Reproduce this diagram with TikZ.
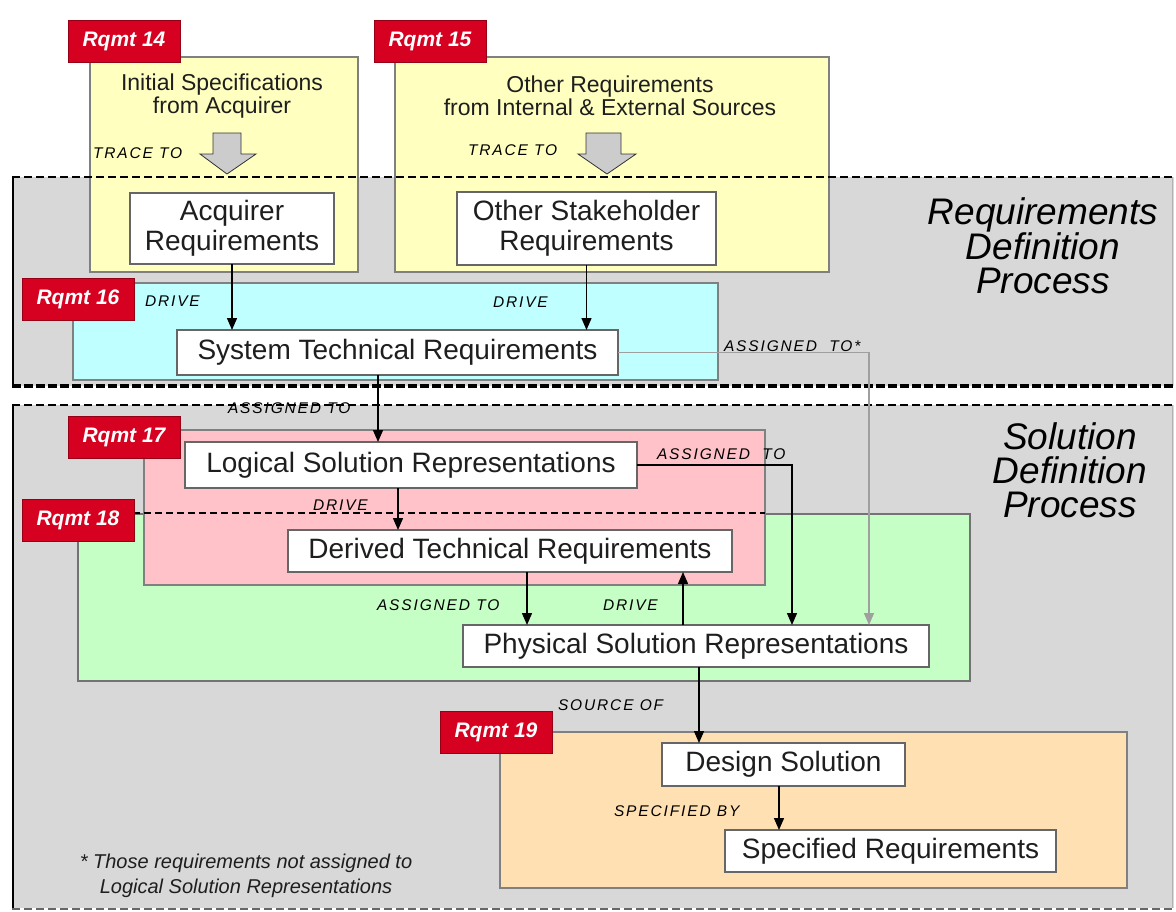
\documentclass[tikz,border=0pt]{standalone}
\usepackage{fontspec}
\setmainfont{Liberation Sans}
\newfontfamily\lblfam[LetterSpace=12]{Liberation Sans}
\usetikzlibrary{arrows.meta}
\definecolor{regiongray}{RGB}{216,216,216}
\definecolor{ylw}{RGB}{255,255,192}
\definecolor{cyn}{RGB}{192,255,255}
\definecolor{pnk}{RGB}{255,194,200}
\definecolor{grn}{RGB}{198,255,198}
\definecolor{org}{RGB}{255,224,178}
\definecolor{rqred}{RGB}{214,0,32}
\definecolor{txt}{RGB}{30,30,30}
\newcommand\boxfont{\fontsize{28}{30}\selectfont}
\newcommand\hdrfont{\fontsize{23}{23}\selectfont}
\newcommand\lblfont{\lblfam\itshape\fontsize{15.5}{17}\selectfont}
\newcommand\rqfont{\bfseries\itshape\fontsize{21}{21}\selectfont}
\newcommand\titlefont{\itshape\fontsize{37}{34}\selectfont}
\newcommand\notefont{\itshape\fontsize{20}{25}\selectfont}
\begin{document}
\begin{tikzpicture}[x=1pt,y=-1pt,
  every node/.style={inner sep=0pt, outer sep=0pt, text=txt},
  reqbox/.style={draw=black!60, fill=white, line width=1.2pt, font=\boxfont, align=center, anchor=north west},
  rqlabel/.style={fill=rqred, draw=rqred!70!black, line width=1pt, font=\rqfont, anchor=north west, minimum height=42pt, minimum width=112pt},
  rellabel/.style={font=\lblfont, anchor=west, text=black},
  container/.style={line width=1.2pt, draw=black!50},
  blockarrow/.style={fill=gray!40, draw=gray!40!black, line width=0.8pt},
  arr/.style={-{Triangle[length=12pt,width=10pt]}, line width=1.4pt},
  grayarr/.style={-{Triangle[length=12pt,width=10pt]}, line width=1.6pt, draw=gray!75},
  bigdash/.style={line width=2.5pt, dash pattern=on 8pt off 4pt},
  heavydash/.style={line width=3.5pt, dash pattern=on 9pt off 3pt},
  thindash/.style={line width=1.5pt, dash pattern=on 8pt off 4pt}
]
\useasboundingbox (0,0) rectangle (1176,911);
\fill[white] (0,0) rectangle (1176,911);

% process regions
\fill[regiongray] (12,177) rectangle (1174,386);
\fill[regiongray] (12,405) rectangle (1174,908);
\draw[gray!60, line width=1pt] (1172,177) -- (1172,386) (1172,405) -- (1172,908);
\draw[line width=2pt] (13,177) -- (13,386);
\draw[line width=2pt] (13,405) -- (13,908);

% yellow source boxes
\filldraw[container, fill=ylw] (90,57) rectangle (358,272);
\filldraw[container, fill=ylw] (395,57) rectangle (829,272);

% region borders
\draw[bigdash] (12,177) -- (1176,177);
\draw[heavydash] (12,386) -- (1176,386);
\draw[thindash] (12,405) -- (1176,405);
\draw[thindash, black!60] (12,909) -- (1176,909);

% coloured sub-areas
\filldraw[container, fill=cyn] (73,283) rectangle (718,380);
\filldraw[container, fill=grn, draw=black!55] (78,514) rectangle (970,681);
\filldraw[container, fill=pnk] (144,430) rectangle (765,585);
\draw[line width=1.4pt, dash pattern=on 7pt off 4pt] (133,513) -- (765,513);
\filldraw[container, fill=org] (500,732) rectangle (1127,888);

% block arrows
\filldraw[blockarrow] (213,133) -- (241,133) -- (241,154) -- (256,154) -- (227,174) -- (200,154) -- (213,154) -- cycle;
\filldraw[blockarrow] (586,133) -- (621,133) -- (621,154) -- (636,154) -- (607,174) -- (578,154) -- (586,154) -- cycle;

% requirement tags
\node[rqlabel] (r14) at (68,20) {\color{white}Rqmt 14};
\node[rqlabel] (r15) at (374,20) {\color{white}Rqmt 15};
\node[rqlabel] (r16) at (22,278) {\color{white}Rqmt 16};
\node[rqlabel] (r17) at (68,416) {\color{white}Rqmt 17};
\node[rqlabel] (r18) at (22,499) {\color{white}Rqmt 18};
\node[rqlabel] (r19) at (440,711) {\color{white}Rqmt 19};

% headers
\node[font=\hdrfont, align=center] (ispec) at (222,96) {Initial Specifications\\from Acquirer};
\node[font=\hdrfont, align=center] (oreq) at (610,96) {Other Requirements\\from Internal \& External Sources};

% titles
\node[font=\titlefont, align=center, text=black] (rdp) at (1043,246) {Requirements\\Definition\\Process};
\node[font=\titlefont, align=center, text=black] (sdp) at (1070,470) {Solution\\Definition\\Process};

% requirement boxes
\node[reqbox, minimum width=204pt, minimum height=71pt] (acq) at (130,193) {Acquirer\\Requirements};
\node[reqbox, minimum width=259pt, minimum height=73pt] (osr) at (457,192) {Other Stakeholder\\Requirements};
\node[reqbox, minimum width=441pt, minimum height=45pt] (stech) at (177,330) {System Technical Requirements};
\node[reqbox, minimum width=452pt, minimum height=46pt] (logical) at (185,442) {Logical Solution Representations};
\node[reqbox, minimum width=444pt, minimum height=42pt] (derived) at (288,530) {Derived Technical Requirements};
\node[reqbox, minimum width=466pt, minimum height=42pt] (physical) at (463,625) {Physical Solution Representations};
\node[reqbox, minimum width=243pt, minimum height=43pt] (design) at (662,743) {Design Solution};
\node[reqbox, minimum width=331pt, minimum height=42pt] (specreq) at (725,830) {Specified Requirements};

% relation labels
\node[rellabel] (t1) at (93,153) {TRACE TO};
\node[rellabel] (t2) at (468,150) {TRACE TO};
\node[rellabel] (d1) at (145,301) {DRIVE};
\node[rellabel] (d2) at (493,302) {DRIVE};
\node[rellabel] (a0) at (724,346) {ASSIGNED\hspace{6pt} TO*};
\node[rellabel] (a1) at (228,408) {ASSIGNED TO};
\node[rellabel] (a2) at (657,454) {ASSIGNED\hspace{6pt} TO};
\node[rellabel] (d3) at (313,505) {DRIVE};
\node[rellabel] (a3) at (377,605) {ASSIGNED TO};
\node[rellabel] (d4) at (603,605) {DRIVE};
\node[rellabel] (s1) at (558,705) {SOURCE OF};
\node[rellabel] (s2) at (614,811) {SPECIFIED BY};

% footnote
\node[font=\notefont, align=center] (note) at (246,876) {* Those requirements not assigned to\\Logical Solution Representations};

% connectors
\coordinate (c378) at (378,0);
\coordinate (c398) at (398,0);
\coordinate (c792) at (792,0);
\coordinate (c869) at (869,0);
\coordinate (c527) at (527,0);
\coordinate (c683) at (683,0);
\coordinate (c699) at (699,0);
\coordinate (c779) at (779,0);
\draw[arr] (acq.south) -- (acq.south |- stech.north);
\draw[arr] (osr.south) -- (osr.south |- stech.north);
\draw[grayarr] (stech.east) -| (physical.north -| c869);
\draw[arr] (stech.south -| c378) -- (logical.north -| c378);
\draw[arr] (logical.south -| c398) -- (derived.north -| c398);
\draw[arr] (logical.east) -| (physical.north -| c792);
\draw[arr] (derived.south -| c527) -- (physical.north -| c527);
\draw[arr] (physical.north -| c683) -- (derived.south -| c683);
\draw[arr] (physical.south -| c699) -- (design.north -| c699);
\draw[arr] (design.south -| c779) -- (specreq.north -| c779);
\end{tikzpicture}
\end{document}
